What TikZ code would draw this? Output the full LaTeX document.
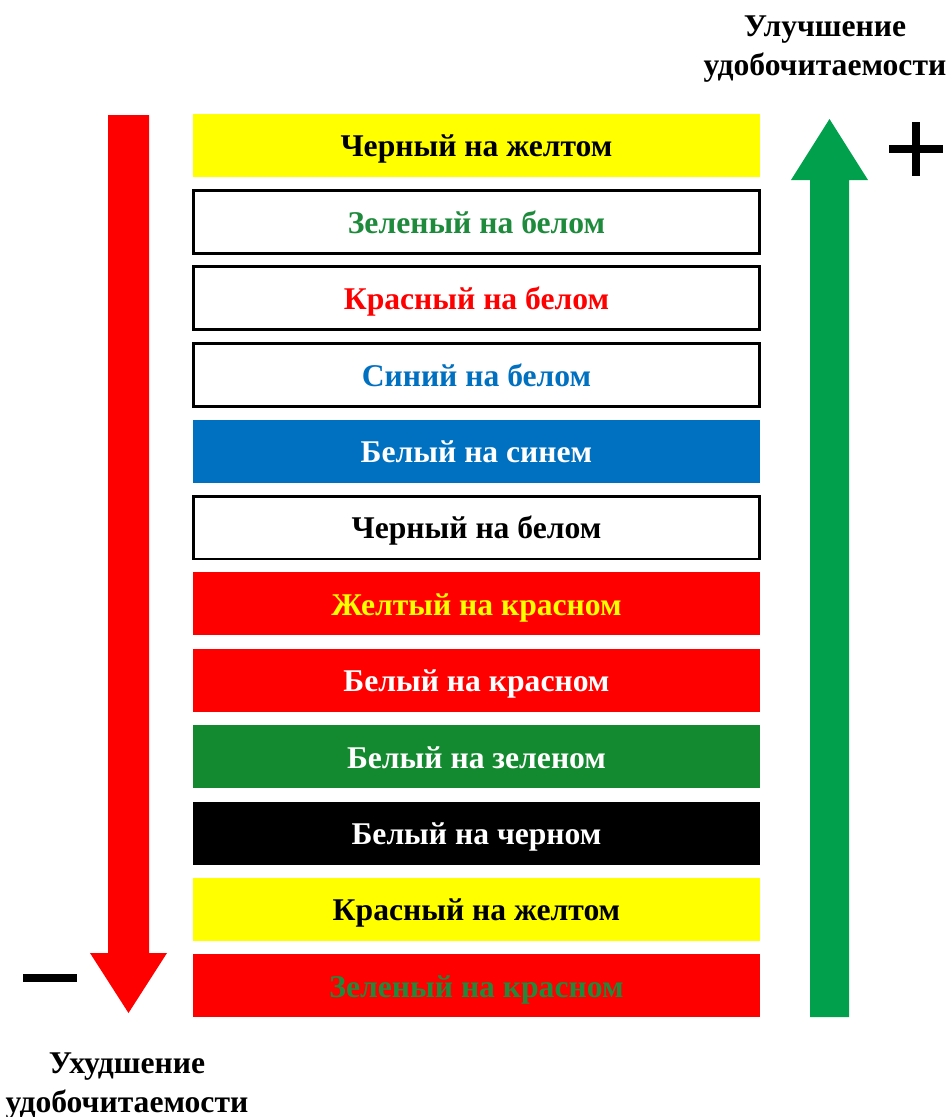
\documentclass[tikz,border=0pt]{standalone}
\usepackage{fontspec}
\setmainfont{Liberation Serif}
\usetikzlibrary{positioning}
\definecolor{barred}{HTML}{FF0000}
\definecolor{baryellow}{HTML}{FFFF00}
\definecolor{barblue}{HTML}{0070C0}
\definecolor{bargreen}{HTML}{148A30}
\definecolor{txtgreen}{HTML}{1E8B3C}
\definecolor{txtblue}{HTML}{0070C0}
\definecolor{arrowgreen}{HTML}{00A04C}

\begin{document}
\begin{tikzpicture}[x=0.02cm, y=-0.02cm,
  bar/.style={minimum width=11.34cm, minimum height=1.26cm, inner sep=0pt,
    text height=15pt, text depth=2pt,
    font=\bfseries\fontsize{18}{21}\selectfont},
  onyellow/.style={bar, fill=baryellow},
  onwhite/.style={bar, fill=white, draw=black, line width=1.7pt},
  onblue/.style={bar, fill=barblue},
  onred/.style={bar, fill=barred},
  ongreen/.style={bar, fill=bargreen},
  onblack/.style={bar, fill=black},
  caption/.style={align=center, font=\bfseries\fontsize{18}{22}\selectfont},
  sign/.style={line width=4pt}]
\useasboundingbox (0,0) rectangle (949,1117);

% colour bars, best on top
\foreach \st/\fg/\lbl [count=\i] in {
  onyellow/black/Черный на желтом,
  onwhite/txtgreen/Зеленый на белом,
  onwhite/barred/Красный на белом,
  onwhite/txtblue/Синий на белом,
  onblue/white/Белый на синем,
  onwhite/black/Черный на белом,
  onred/baryellow/Желтый на красном,
  onred/white/Белый на красном,
  ongreen/white/Белый на зеленом,
  onblack/white/Белый на черном,
  onyellow/black/Красный на желтом,
  onred/txtgreen/Зеленый на красном}
  \node (b\i) [\st, text=\fg] at (476.5, {69.1+76.4*\i}) {\lbl};

% arrows
\fill[barred] (108,115) -- (149,115) -- (149,953) -- (167,953) -- (128.5,1013)
  -- (90,953) -- (108,953) -- cycle;
\fill[arrowgreen] (810,1017) -- (849,1017) -- (849,180) -- (868,180) -- (829.5,119)
  -- (791,180) -- (810,180) -- cycle;

% plus and minus
\draw[sign] (889,149) -- (943,149);
\draw[sign] (916,122) -- (916,176);
\draw[sign] (23,978) -- (77,978);

\node (better) [caption] at (825,49) {Улучшение\\удобочитаемости};
\node (worse) [caption] at (127,1086) {Ухудшение\\удобочитаемости};
\end{tikzpicture}
\end{document}
